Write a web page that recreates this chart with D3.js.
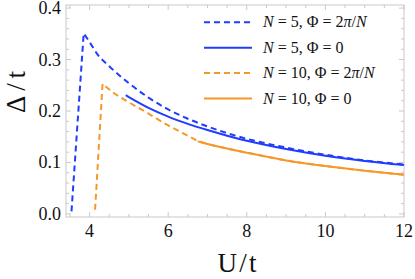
<!DOCTYPE html>
<html>
<head>
<meta charset="utf-8">
<script src="https://cdn.jsdelivr.net/npm/d3@7"></script>
<style>
  body { margin: 0; background: #fff; }
  svg { display: block; }
  text { font-family: "Liberation Serif", serif; fill: #111; }
</style>
</head>
<body>
<svg id="chart" width="415" height="279"></svg>
<script>
// curves: [U/t, Delta/t]
const n5Flux = [[3.54,0.005],[3.85,0.351],[4.0,0.334],[4.2,0.310],[4.5,0.287],[5.0,0.254],[5.5,0.226],[6.0,0.203],[6.5,0.185],[7.0,0.170],[7.5,0.157],[8.0,0.146],[9.0,0.129],[10.0,0.115],[11.0,0.104],[12.0,0.096]];
const n5Zero = [[4.92,0.231],[5.0,0.227],[5.5,0.206],[6.0,0.189],[6.5,0.175],[7.0,0.163],[7.5,0.152],[8.0,0.142],[9.0,0.126],[10.0,0.113],[11.0,0.103],[12.0,0.095]];
const n10Flux = [[4.14,0.008],[4.33,0.253],[4.6,0.236],[5.0,0.217],[5.5,0.195],[6.0,0.172],[6.5,0.152],[6.75,0.142],[7.0,0.136],[7.5,0.127],[8.0,0.119],[9.0,0.104],[10.0,0.093],[11.0,0.084],[12.0,0.076]];
const n10Zero = [[6.75,0.141],[7.0,0.136],[7.5,0.127],[8.0,0.119],[9.0,0.104],[10.0,0.093],[11.0,0.084],[12.0,0.076]];

const xTicks = [4, 6, 8, 10, 12];
const yTicks = [0.0, 0.1, 0.2, 0.3, 0.4];

const blue = "#1f3cff", orange = "#f5982a";
const series = [
  { data: n5Flux, color: blue, dash: "6,4" },
  { data: n5Zero, color: blue, dash: null },
  { data: n10Flux, color: orange, dash: "6,4" },
  { data: n10Zero, color: orange, dash: null }
];
const legendRows = [
  { color: blue, dash: "6,4", n: "5", phi: "flux" },
  { color: blue, dash: null, n: "5", phi: "zero" },
  { color: orange, dash: "6,4", n: "10", phi: "flux" },
  { color: orange, dash: null, n: "10", phi: "zero" }
];

const svg = d3.select("#chart");
const pL = 66, pR = 404, pT = 5, pB = 217;

const x = d3.scaleLinear().domain([3.4, 12]).range([pL, pR]);
const y = d3.scaleLinear().domain([-0.006, 0.406]).range([pB, pT]);

const frameColor = "#c9c9c9";

// minor + major ticks, pointing inward, on all four sides
const xMinor = d3.range(3.5, 12.01, 0.5);
const yMinor = d3.range(0, 0.401, 0.02);
const g = svg.append("g");

xMinor.forEach(v => {
  const major = Math.abs(v - Math.round(v / 2) * 2) < 1e-6;
  const len = major ? 5 : 3;
  g.append("line").attr("x1", x(v)).attr("x2", x(v)).attr("y1", pB).attr("y2", pB - len)
    .attr("stroke", frameColor);
  g.append("line").attr("x1", x(v)).attr("x2", x(v)).attr("y1", pT).attr("y2", pT + len)
    .attr("stroke", frameColor);
});
yMinor.forEach(v => {
  const major = Math.abs(v * 10 - Math.round(v * 10)) < 1e-6;
  const len = major ? 5 : 3;
  g.append("line").attr("x1", pL).attr("x2", pL + len).attr("y1", y(v)).attr("y2", y(v))
    .attr("stroke", frameColor);
  g.append("line").attr("x1", pR).attr("x2", pR - len).attr("y1", y(v)).attr("y2", y(v))
    .attr("stroke", frameColor);
});

g.append("rect").attr("x", pL).attr("y", pT).attr("width", pR - pL).attr("height", pB - pT)
  .attr("fill", "none").attr("stroke", frameColor).attr("stroke-width", 1);

// tick labels
svg.append("g").selectAll("text").data(xTicks).join("text")
  .attr("x", d => x(d)).attr("y", 237)
  .attr("text-anchor", "middle").attr("font-size", 18)
  .text(d => d);
svg.append("g").selectAll("text").data(yTicks).join("text")
  .attr("x", 61).attr("y", d => y(d) + 6)
  .attr("text-anchor", "end").attr("font-size", 18)
  .text(d => d.toFixed(1));

// axis titles
svg.append("text").attr("x", 237).attr("y", 272).attr("text-anchor", "middle")
  .attr("font-size", 27).attr("textLength", 39).attr("lengthAdjust", "spacing").text("U/t");
svg.append("text").attr("transform", "translate(25,92) rotate(-90)").attr("text-anchor", "middle")
  .attr("font-size", 27).attr("textLength", 42).attr("lengthAdjust", "spacing").text("Δ/t");

// curves: straight rise, smooth decay
const line = d3.line().x(d => x(d[0])).y(d => y(d[1])).curve(d3.curveMonotoneX);
const lineLin = d3.line().x(d => x(d[0])).y(d => y(d[1]));
series.forEach(s => {
  svg.append("path")
    .attr("d", lineLin(s.data.slice(0, 2)) + line(s.data.slice(1)).replace(/^M/, "L"))
    .attr("fill", "none").attr("stroke", s.color).attr("stroke-width", 2)
    .attr("stroke-dasharray", s.dash);
});

// legend
const lg = svg.append("g");
legendRows.forEach((r, i) => {
  const cy = 22.3 + i * 25.4;
  lg.append("line").attr("x1", 204).attr("x2", 252).attr("y1", cy).attr("y2", cy)
    .attr("stroke", r.color).attr("stroke-width", 2).attr("stroke-dasharray", r.dash);
  const t = lg.append("text").attr("x", 263).attr("y", cy + 5).attr("font-size", 16);
  t.append("tspan").attr("font-style", "italic").text("N");
  t.append("tspan").text(" = " + r.n + ", Φ = ");
  if (r.phi === "flux") {
    t.append("tspan").text("2");
    t.append("tspan").attr("font-style", "italic").text("π");
    t.append("tspan").text("/");
    t.append("tspan").attr("font-style", "italic").text("N");
  } else {
    t.append("tspan").text("0");
  }
});
</script>
</body>
</html>
